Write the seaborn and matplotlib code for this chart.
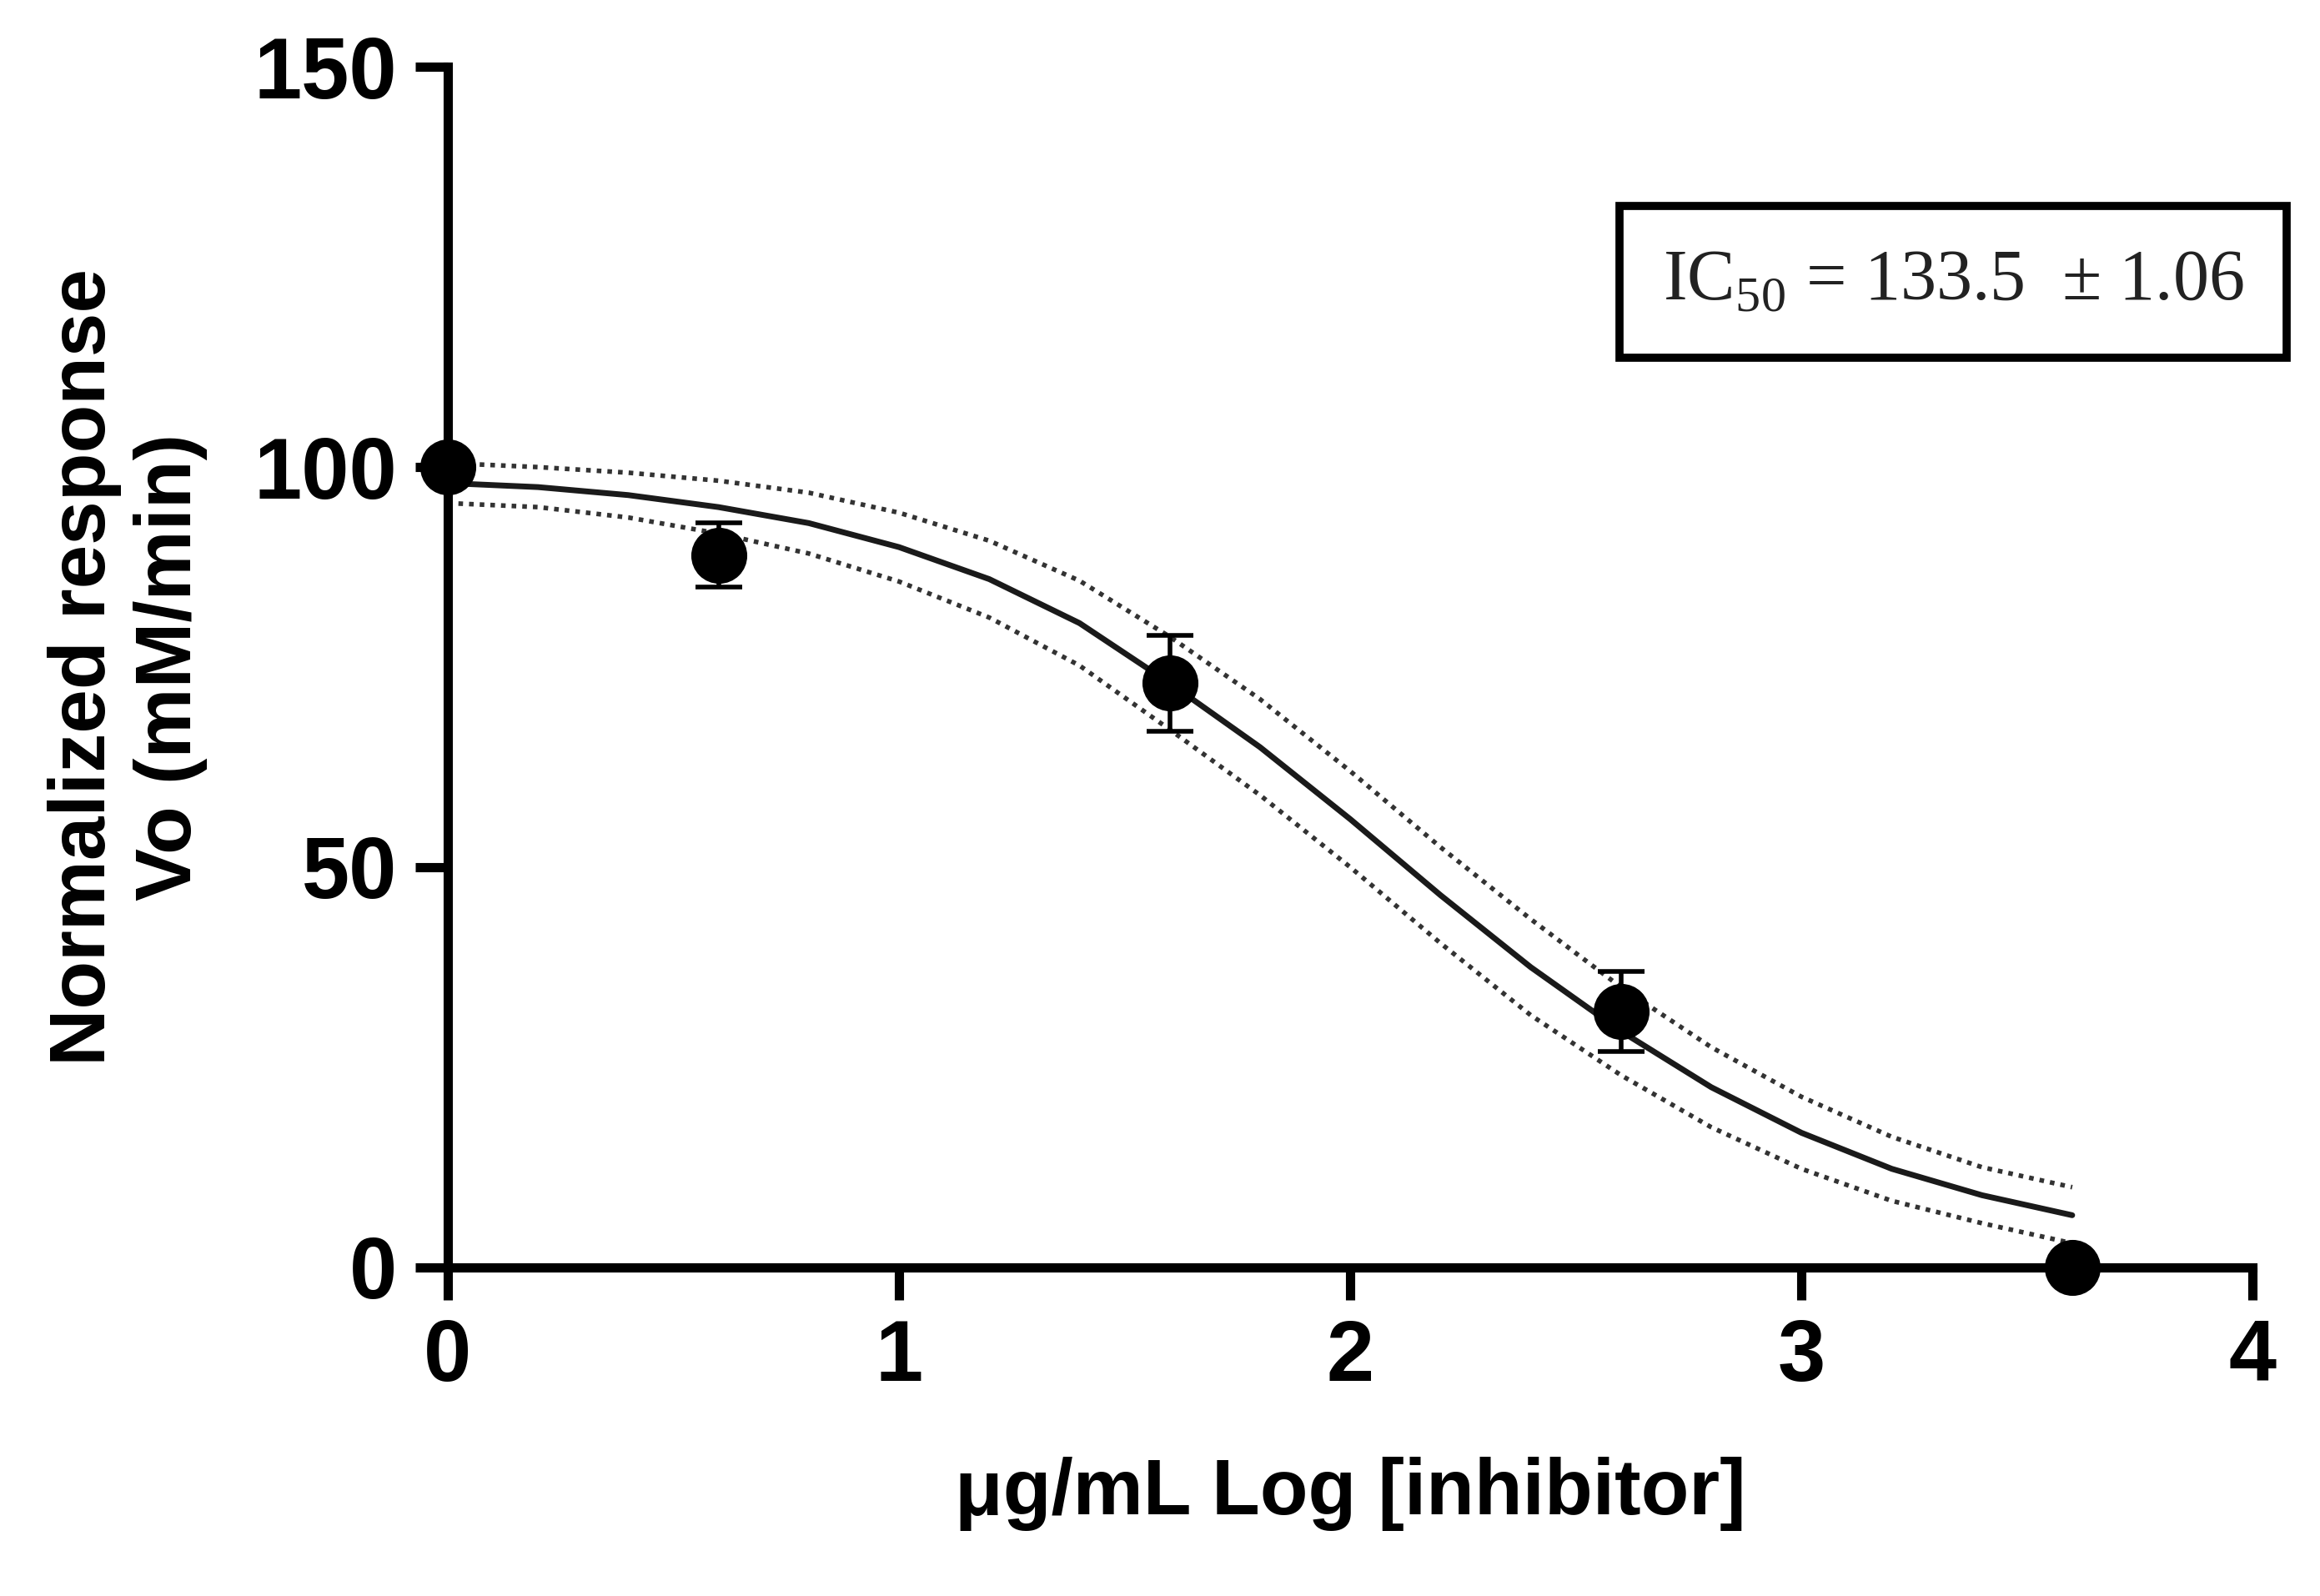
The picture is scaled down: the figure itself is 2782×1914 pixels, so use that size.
import matplotlib
matplotlib.use("Agg")
import matplotlib.pyplot as plt
import seaborn as sns
import pandas as pd

# data points
log_conc = [0.0, 0.6, 1.6, 2.6, 3.6]
response = [100.0, 89.0, 73.0, 32.0, 0.0]
err = [0.0, 4.0, 6.0, 5.0, 0.0]

# fitted curve and confidence band
curve_x = [0.0, 0.2, 0.4, 0.6, 0.8, 1.0, 1.2, 1.4, 1.6, 1.8, 2.0, 2.2, 2.4, 2.6, 2.8, 3.0, 3.2, 3.4, 3.6]
curve_fit = [98, 97.5, 96.5, 95, 93, 90, 86, 80.5, 73, 65, 56, 46.5, 37.5, 29.5, 22.5, 16.8, 12.3, 9, 6.5]
curve_upper = [100.5, 100, 99.3, 98.3, 96.8, 94.3, 90.8, 85.8, 78.8, 71, 62, 52.5, 43.5, 35, 27.5, 21.3, 16.3, 12.5, 10]
curve_lower = [95.5, 95, 93.7, 91.7, 89.2, 85.7, 81.2, 75.2, 67.2, 59, 50, 40.5, 31.5, 24, 17.5, 12.3, 8.3, 5.5, 3]

sns.set_style("ticks")
plt.rcParams["font.family"] = ["Liberation Sans", "DejaVu Sans"]
plt.rcParams["mathtext.fontset"] = "custom"
plt.rcParams["mathtext.rm"] = "Liberation Serif"
plt.rcParams["text.color"] = "black"
plt.rcParams["axes.labelcolor"] = "black"
plt.rcParams["xtick.color"] = "black"
plt.rcParams["ytick.color"] = "black"
plt.rcParams["axes.edgecolor"] = "black"

fig = plt.figure(figsize=(27.82, 19.14), dpi=100)
ax = fig.add_axes([0.193, 0.206, 0.778, 0.752])

df = pd.DataFrame({"x": curve_x, "fit": curve_fit, "up": curve_upper, "lo": curve_lower})
sns.lineplot(data=df, x="x", y="fit", ax=ax, color="#1a1a1a", lw=5)
sns.lineplot(data=df, x="x", y="up", ax=ax, color="#333333", lw=4, linestyle=(0, (1, 1.3)))
sns.lineplot(data=df, x="x", y="lo", ax=ax, color="#333333", lw=4, linestyle=(0, (1, 1.3)))

ax.errorbar(log_conc, response, yerr=err, fmt="none", ecolor="black", elinewidth=4, capsize=20, capthick=4, zorder=4)
pts = pd.DataFrame({"x": log_conc, "y": response})
sns.scatterplot(data=pts, x="x", y="y", ax=ax, color="black", s=2000, edgecolor="black", zorder=5, clip_on=False)

ax.set_xlim(0, 4)
ax.set_ylim(0, 150)
ax.set_xticks([0, 1, 2, 3, 4])
ax.set_yticks([0, 50, 100, 150])
sns.despine(ax=ax)
for s in ["left", "bottom"]:
    ax.spines[s].set_linewidth(8)
ax.tick_params(width=8, length=28, labelsize=74, pad=16)
for lab in ax.get_xticklabels() + ax.get_yticklabels():
    lab.set_fontweight("bold")

ax.set_xlabel("μg/mL Log [inhibitor]", fontsize=68, fontweight="bold", labelpad=50)
ax.set_ylabel("Normalized response\nVo (mM/min)", fontsize=68, fontweight="bold", labelpad=40)

ax.text(0.834, 0.821, r"IC$_{\mathrm{50}}$ = 133.5  ± 1.06", transform=ax.transAxes,
        ha="center", va="center", fontsize=62, family="Liberation Serif", color="#222222",
        bbox=dict(boxstyle="square,pad=0.6", fc="white", ec="black", lw=7))

fig.savefig("out.png", dpi=100)
